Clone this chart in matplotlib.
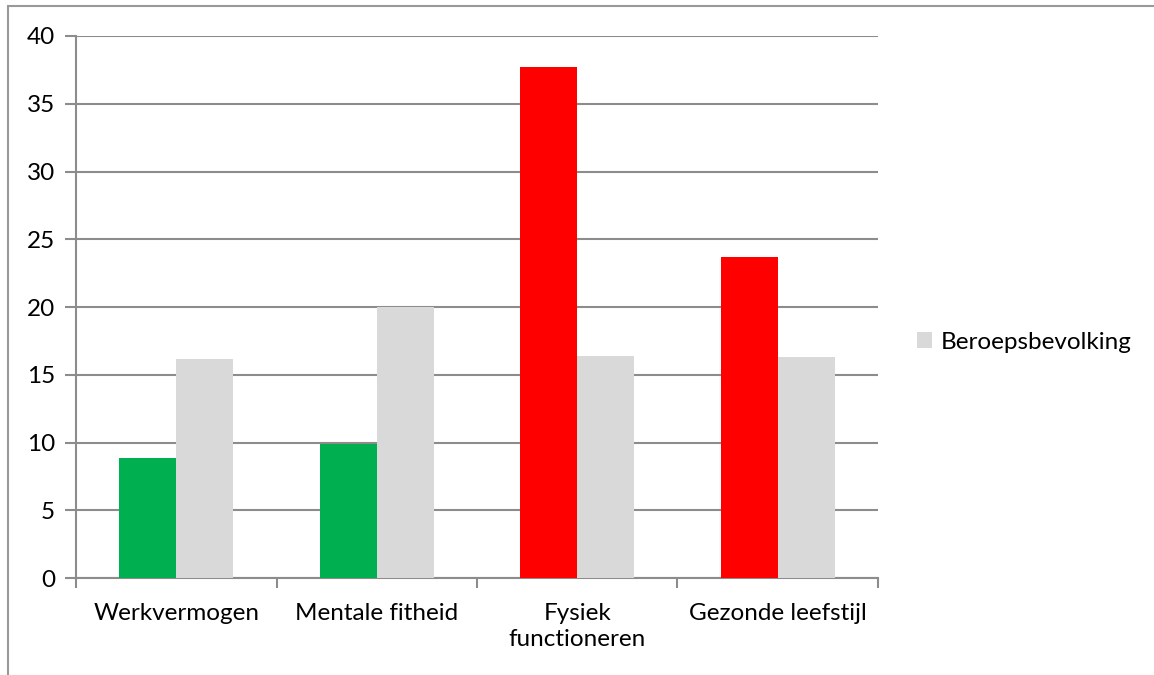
import matplotlib
matplotlib.use("Agg")
import matplotlib.pyplot as plt
from matplotlib.patches import Rectangle
import numpy as np

categories = ["Werkvermogen", "Mentale fitheid", "Fysiek\nfunctioneren", "Gezonde leefstijl"]
scores = [8.9, 9.9, 37.7, 23.7]
score_colors = ["#00B050", "#00B050", "#FF0000", "#FF0000"]
beroepsbevolking = [16.2, 20.0, 16.4, 16.3]
series_label = "Beroepsbevolking"
yticks = [0, 5, 10, 15, 20, 25, 30, 35, 40]

plt.rcParams["font.family"] = ["Lato", "DejaVu Sans"]
fs = 17.5

fig = plt.figure(figsize=(11.54, 6.75), dpi=100)
ax = fig.add_axes([0.0659, 0.1433, 0.6949, 0.8034])

x = np.arange(len(categories))
w = 0.285
ax.bar(x - w / 2, scores, width=w, color=score_colors, zorder=3)
grey = ax.bar(x + w / 2, beroepsbevolking, width=w, color="#D9D9D9", zorder=3,
              label=series_label)

grid_c = "#8C8C8C"
ax.set_ylim(0, 40)
ax.set_xlim(-0.5, len(categories) - 0.5)
ax.set_yticks(yticks)
ax.yaxis.grid(True, color=grid_c, linewidth=1.5, zorder=0)
ax.set_axisbelow(True)

ax.set_xticks(x)
ax.set_xticklabels(categories, fontsize=fs, linespacing=1.3)
ax.tick_params(axis="x", length=0, pad=18)
ax.set_xticks(np.arange(len(categories) + 1) - 0.5, minor=True)
ax.tick_params(axis="x", which="minor", length=7, width=1.5, color=grid_c)
ax.tick_params(axis="y", length=8, width=1.5, color=grid_c, labelsize=fs, pad=7)

for side in ["top", "right"]:
    ax.spines[side].set_visible(False)
for side in ["left", "bottom"]:
    ax.spines[side].set_color(grid_c)
    ax.spines[side].set_linewidth(1.5)

fig.legend(handles=[grey], labels=[series_label], loc="center left",
           bbox_to_anchor=(0.776, 0.493), frameon=False, fontsize=fs,
           handlelength=0.6, handleheight=0.6, handletextpad=0.35)

# outer chart frame
fig.patches.append(Rectangle((8 / 1154, -0.1), 1.2, (675 - 6) / 675 + 0.1,
                             transform=fig.transFigure, fill=False,
                             edgecolor="#999999", linewidth=1.5))

fig.savefig("out.png", dpi=100, facecolor="white")
